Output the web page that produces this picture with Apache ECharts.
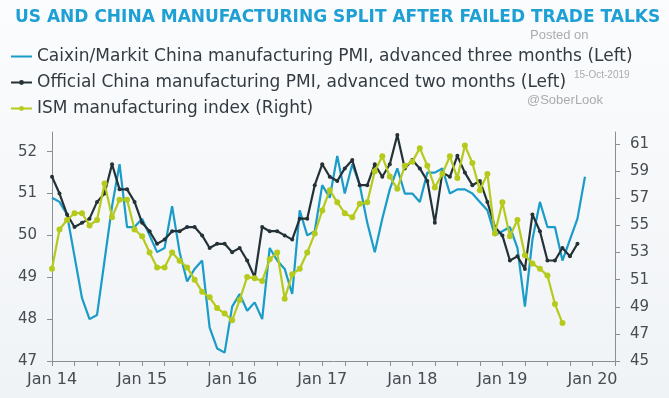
<!DOCTYPE html>
<html lang="en">
<head>
    <meta charset="UTF-8">
    <title>US and China manufacturing</title>
    <script type="text/javascript" src="https://cdn.jsdelivr.net/npm/echarts@6/dist/echarts.min.js"></script>
    <style>
        html, body { margin: 0; padding: 0; }
    </style>
</head>
<body>
<div id="main" style="width: 669px;height: 398px"></div>
<script type="text/javascript">
    // months Jan 14 .. Apr 20
    var months = [];
    var monthNames = ['Jan', 'Feb', 'Mar', 'Apr', 'May', 'Jun', 'Jul', 'Aug', 'Sep', 'Oct', 'Nov', 'Dec'];
    for (var y = 14; y <= 20; y++) {
        for (var m = 0; m < 12; m++) {
            if (y == 20 && m > 3) break;
            months.push(monthNames[m] + ' ' + y);
        }
    }

    // Caixin/Markit PMI, shifted forward 3 months (Jan 14 .. Dec 19)
    var caixin = [
        50.9, 50.8, 50.5, 49.5, 48.5, 48.0, 48.1, 49.4, 50.7, 51.7, 50.2, 50.2,
        50.4, 50.0, 49.6, 49.7, 50.7, 49.6, 48.9, 49.2, 49.4, 47.8, 47.3, 47.2,
        48.3, 48.6, 48.2, 48.4, 48.0, 49.7, 49.4, 49.2, 48.6, 50.6, 50.0, 50.1,
        51.2, 50.9, 51.9, 51.0, 51.7, 51.2, 50.3, 49.6, 50.4, 51.1, 51.6, 51.0,
        51.0, 50.8, 51.5, 51.5, 51.6, 51.0, 51.1, 51.1, 51.0, 50.8, 50.6, 50.0,
        50.1, 50.2, 49.7, 48.3, 49.9, 50.8, 50.2, 50.2, 49.4, 49.9, 50.4, 51.4
    ];
    // Official NBS PMI, shifted forward 2 months (Jan 14 .. Nov 19)
    var official = [
        51.4, 51.0, 50.5, 50.2, 50.3, 50.4, 50.8, 51.0, 51.7, 51.1, 51.1, 50.8,
        50.3, 50.1, 49.8, 49.9, 50.1, 50.1, 50.2, 50.2, 50.0, 49.7, 49.8, 49.8,
        49.6, 49.7, 49.4, 49.0, 50.2, 50.1, 50.1, 50.0, 49.9, 50.4, 50.4, 51.2,
        51.7, 51.4, 51.3, 51.6, 51.8, 51.2, 51.2, 51.7, 51.4, 51.7, 52.4, 51.6,
        51.8, 51.6, 51.3, 50.3, 51.5, 51.4, 51.9, 51.5, 51.2, 51.3, 50.8, 50.2,
        50.0, 49.4, 49.5, 49.2, 50.5, 50.1, 49.4, 49.4, 49.7, 49.5, 49.8
    ];
    // ISM manufacturing (Jan 14 .. Sep 19), right axis
    var ism = [
        51.8, 54.7, 55.4, 55.9, 55.9, 55.0, 55.4, 58.1, 55.6, 56.9, 56.9, 54.7,
        54.2, 53.0, 51.9, 51.9, 53.0, 52.4, 51.9, 51.0, 50.1, 49.7, 48.9, 48.5,
        48.0, 49.5, 51.2, 51.1, 50.9, 52.5, 53.0, 49.6, 51.4, 51.8, 53.0, 54.4,
        56.1, 57.6, 56.7, 55.9, 55.6, 56.6, 56.7, 59.0, 60.1, 58.6, 57.7, 59.4,
        59.7, 60.7, 59.4, 57.8, 58.8, 60.1, 58.5, 60.9, 59.6, 57.6, 58.8, 54.4,
        56.7, 54.2, 55.4, 52.8, 52.2, 51.8, 51.3, 49.2, 47.8
    ];
    var leftTicks = [47, 48, 49, 50, 51, 52];
    var rightTicks = [45, 47, 49, 51, 53, 55, 57, 59, 61];

    var font = 'DejaVu Sans';
    var axisColor = '#8a8f93';
    var labelColor = '#454c52';
    var blue = '#1a9bc8', dark = '#243238', lime = '#b6ca1c';

    var myChart = echarts.init(document.getElementById('main'));
    var option = {
        backgroundColor: new echarts.graphic.LinearGradient(0, 0, 0, 1, [
            {offset: 0, color: '#fbfcfd'},
            {offset: 1, color: '#f0f3f6'}
        ]),
        animation: false,
        title: {
            text: 'US AND CHINA MANUFACTURING SPLIT AFTER FAILED TRADE TALKS',
            left: 10,
            top: 4,
            textStyle: {fontFamily: font, fontWeight: 'bold', fontSize: 17, color: '#1fa0d5'}
        },
        legend: {
            orient: 'vertical',
            left: 5,
            top: 43,
            itemWidth: 21,
            itemHeight: 6,
            itemGap: 9,
            textStyle: {fontFamily: font, fontSize: 17, color: '#333b42'},
            data: [
                {name: 'Caixin/Markit China manufacturing PMI, advanced three months (Left)', itemStyle: {opacity: 0}},
                {name: 'Official China manufacturing PMI, advanced two months (Left)'},
                {name: 'ISM manufacturing index (Right)'}
            ]
        },
        graphic: [
            {type: 'text', left: 530, top: 29, style: {text: 'Posted on', font: '13px Liberation Sans', fill: '#a9adb0'}},
            {type: 'text', left: 574, top: 70, style: {text: '15-Oct-2019', font: '10px Liberation Sans', fill: '#a9adb0'}},
            {type: 'text', left: 527, top: 94, style: {text: '@SoberLook', font: '13px Liberation Sans', fill: '#a9adb0'}}
        ],
        grid: {left: 52, right: 54, top: 132, bottom: 37},
        xAxis: {
            type: 'category',
            data: months,
            boundaryGap: false,
            axisLine: {lineStyle: {color: axisColor, width: 1}},
            axisTick: {
                length: 5,
                interval: function (i) { return i % 3 == 0; },
                lineStyle: {color: axisColor}
            },
            axisLabel: {
                interval: function (i) { return i % 12 == 0; },
                margin: 11,
                fontFamily: font,
                fontSize: 16,
                color: labelColor
            }
        },
        yAxis: [
            {
                type: 'value',
                min: 47,
                max: 52.47,
                splitLine: {show: false},
                axisLine: {show: true, lineStyle: {color: axisColor}},
                axisTick: {show: true, length: 5, customValues: leftTicks, lineStyle: {color: axisColor}},
                axisLabel: {customValues: leftTicks, margin: 15, fontFamily: font, fontSize: 15, color: labelColor}
            },
            {
                type: 'value',
                min: 45,
                max: 61.89,
                position: 'right',
                splitLine: {show: false},
                axisLine: {show: true, lineStyle: {color: axisColor}},
                axisTick: {show: true, length: 5, customValues: rightTicks, lineStyle: {color: axisColor}},
                axisLabel: {customValues: rightTicks, margin: 15, fontFamily: font, fontSize: 15, color: labelColor}
            }
        ],
        series: [
            {
                name: 'Caixin/Markit China manufacturing PMI, advanced three months (Left)',
                type: 'line',
                yAxisIndex: 0,
                data: caixin,
                showSymbol: false,
                lineStyle: {color: blue, width: 2.2},
                itemStyle: {color: blue},
                z: 2
            },
            {
                name: 'Official China manufacturing PMI, advanced two months (Left)',
                type: 'line',
                yAxisIndex: 0,
                data: official,
                symbol: 'circle',
                symbolSize: 4,
                showAllSymbol: true,
                lineStyle: {color: dark, width: 2.2},
                itemStyle: {color: dark},
                z: 3
            },
            {
                name: 'ISM manufacturing index (Right)',
                type: 'line',
                yAxisIndex: 1,
                data: ism,
                symbol: 'circle',
                symbolSize: 6,
                showAllSymbol: true,
                lineStyle: {color: lime, width: 2.2},
                itemStyle: {color: lime},
                z: 4
            }
        ]
    };
    myChart.setOption(option);
</script>
</body>
</html>
